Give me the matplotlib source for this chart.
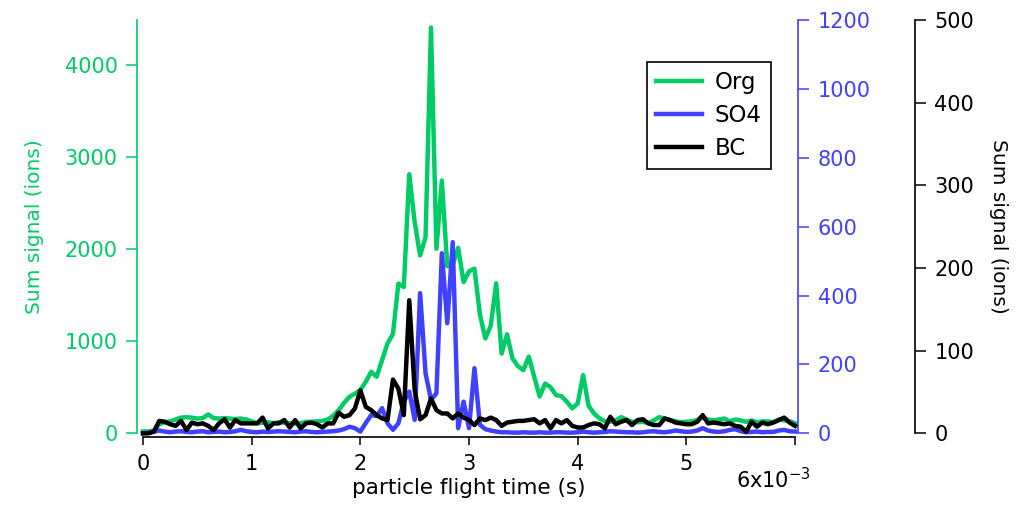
import numpy as np
import matplotlib
matplotlib.use('Agg')
import matplotlib.pyplot as plt

# flight time bins (s), 0.05 ms apart
flight_time = np.arange(121) * 0.05e-3

# summed ion signal for each species
org = [20, 20, 30, 100, 120, 130, 150, 170, 175, 170,
       160, 165, 205, 165, 160, 165, 160, 155, 160, 150,
       130, 110, 115, 120, 110, 120, 115, 110, 105, 110,
       125, 125, 130, 135, 150, 190, 250, 330, 397, 430,
       470, 560, 668, 614, 795, 976, 1080, 1626, 1589, 2815,
       2294, 1933, 2131, 4408, 2005, 2746, 1815, 1830, 2015, 1643,
       1760, 1789, 1295, 1030, 1170, 1630, 867, 1075, 813, 730,
       686, 834, 614, 400, 540, 500, 415, 404, 343, 271,
       325, 632, 300, 215, 163, 130, 126, 140, 175, 150,
       126, 120, 125, 110, 140, 175, 160, 144, 130, 120,
       125, 130, 145, 170, 150, 140, 150, 160, 130, 150,
       140, 125, 140, 120, 130, 130, 120, 150, 140, 130, 110]

so4 = [0, 2, 5, 8, 5, 3, 5, 6, 4, 3,
       5, 6, 3, 4, 5, 3, 4, 6, 10, 6,
       4, 3, 5, 4, 5, 6, 5, 4, 3, 5,
       6, 4, 3, 4, 5, 6, 8, 12, 19, 15,
       5, 30, 53, 50, 73, 29, 10, 29, 92, 121,
       39, 407, 174, 97, 116, 523, 320, 555, 15, 92,
       15, 189, 25, 12, 8, 5, 3, 3, 2, 2,
       3, 2, 2, 3, 2, 2, 3, 3, 2, 2,
       3, 5, 3, 2, 3, 4, 6, 5, 4, 3,
       3, 2, 3, 5, 6, 4, 3, 5, 8, 6,
       4, 5, 8, 15, 8, 5, 4, 6, 10, 12,
       6, 3, 4, 5, 3, 4, 4, 8, 10, 6, 5]

bc = [0, 0, 2, 15, 14, 11, 9, 15, 4, 13,
      11, 12, 9, 4, 12, 17, 7, 16, 12, 12,
      12, 12, 19, 6, 12, 12, 16, 7, 16, 6,
      12, 13, 11, 7, 12, 12, 25, 20, 22, 30,
      52, 32, 28, 22, 18, 16, 65, 54, 22, 161,
      52, 17, 22, 42, 28, 24, 24, 18, 24, 19,
      16, 10, 18, 16, 19, 16, 9, 13, 14, 15,
      15, 16, 17, 12, 16, 6, 16, 12, 16, 9,
      7, 7, 10, 12, 11, 6, 20, 11, 14, 16,
      10, 16, 17, 12, 10, 10, 18, 16, 13, 12,
      11, 11, 14, 22, 12, 13, 12, 11, 12, 9,
      8, 2, 14, 8, 13, 11, 13, 16, 19, 13, 9]

x_ticks = [0, 1e-3, 2e-3, 3e-3, 4e-3, 5e-3, 6e-3]
x_labels = ['0', '1', '2', '3', '4', '5', '']
x_exp_label = r'6x10$^{-3}$'

green = '#00CC66'
blue = '#4040FF'
black = '#000000'

plt.rcParams['font.family'] = ['DejaVu Sans']
tick_fs = 15

fig = plt.figure(figsize=(10.34, 5.14), dpi=100)
ax1 = fig.add_axes([0.1383, 0.157, 0.6306, 0.804])
ax2 = ax1.twinx()
ax3 = ax1.twinx()

l1, = ax1.plot(flight_time, org, color=green, lw=3.2, clip_on=False, label='Org')
l2, = ax2.plot(flight_time, so4, color=blue, lw=3.2, clip_on=False, label='SO4')
l3, = ax3.plot(flight_time, bc, color=black, lw=3.2, clip_on=False, label='BC')

ax1.set_xlim(0, 6e-3)
ax1.set_ylim(0, 4490)
ax2.set_ylim(0, 1200)
ax3.set_ylim(0, 500)

# left axis (Org)
for s in ['top', 'right']:
    ax1.spines[s].set_visible(False)
ax1.spines['left'].set_position(('outward', 4.3))
ax1.spines['left'].set_color(green)
ax1.spines['left'].set_linewidth(1.2)
ax1.spines['bottom'].set_position(('outward', 2.9))
ax1.spines['bottom'].set_linewidth(1.2)
ax1.set_yticks([0, 1000, 2000, 3000, 4000])
ax1.tick_params(axis='y', colors=green, length=8, width=1.1, pad=6, labelsize=tick_fs)
ax1.tick_params(axis='x', length=6, width=1.1, pad=6, labelsize=tick_fs)
ax1.set_xticks(x_ticks)
ax1.set_xticklabels(x_labels)
ax1.set_ylabel('Sum signal (ions)', color=green, fontsize=14.5, labelpad=15)
ax1.set_xlabel('particle flight time (s)', fontsize=15.5, labelpad=3)

# exponent label for the last x tick, set a bit lower and left of the tick
ax1.annotate(x_exp_label, xy=(6e-3, 0), xycoords=('data', 'axes fraction'),
             xytext=(11, -24), textcoords='offset points',
             ha='right', va='top', fontsize=tick_fs)

# middle axis (SO4)
for s in ['top', 'left', 'bottom']:
    ax2.spines[s].set_visible(False)
ax2.spines['right'].set_position(('outward', 2.2))
ax2.spines['right'].set_color(blue)
ax2.spines['right'].set_linewidth(1.2)
ax2.set_yticks([0, 200, 400, 600, 800, 1000, 1200])
ax2.tick_params(axis='y', colors=blue, length=8, width=1.1, pad=6, labelsize=tick_fs)

# far right axis (BC)
for s in ['top', 'left', 'bottom']:
    ax3.spines[s].set_visible(False)
ax3.spines['right'].set_position(('outward', 86.4))
ax3.spines['right'].set_linewidth(1.2)
ax3.set_yticks([0, 100, 200, 300, 400, 500])
ax3.tick_params(axis='y', colors=black, length=8, width=1.1, pad=6, labelsize=tick_fs)
ax3.set_ylabel('Sum signal (ions)', fontsize=14.5, rotation=270, labelpad=24)

leg = ax3.legend(handles=[l1, l2, l3], loc='upper left', bbox_to_anchor=(0.773, 0.898),
                 fontsize=16.5, frameon=True, fancybox=False, framealpha=1,
                 edgecolor='black', handlelength=2.0, handletextpad=0.55,
                 labelspacing=0.42, borderpad=0.4, borderaxespad=0)
leg.get_frame().set_linewidth(1.2)

plt.savefig('out.png', dpi=100)
